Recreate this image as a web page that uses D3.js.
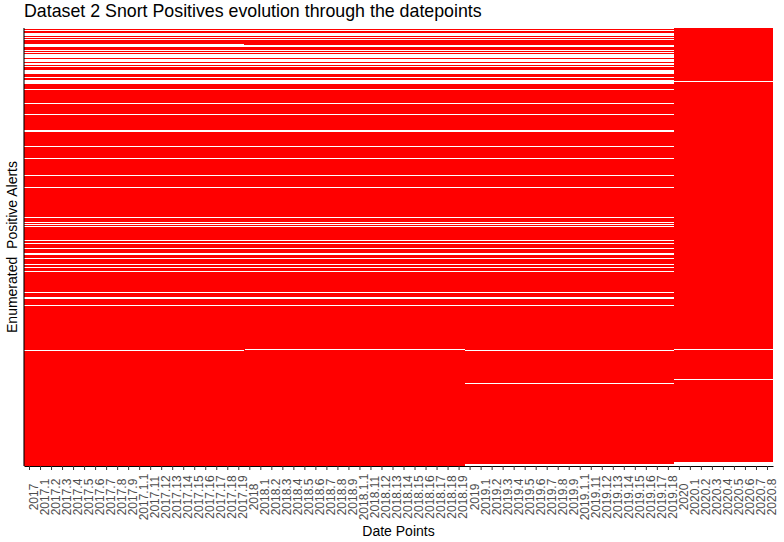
<!DOCTYPE html>
<html lang="en">
<head>
  <meta charset="UTF-8">
  <title>snort positives</title>
  <style>
    body { margin: 0; background: #fff; }
    text { font-family: "Liberation Sans", Arial, sans-serif; }
  </style>
</head>
<body>
  <svg id="chart" width="784" height="542"></svg>
  <script src="https://cdn.jsdelivr.net/npm/d3@7/dist/d3.min.js"></script>
  <script>
    // date points as they come out of the dataset (make.unique style names)
    var datePoints = [
      "2017", "2017.1", "2017.2", "2017.3", "2017.4", "2017.5", "2017.6", "2017.7", "2017.8", "2017.9",
      "2017.1.1", "2017.11", "2017.12", "2017.13", "2017.14", "2017.15", "2017.16", "2017.17", "2017.18", "2017.19",
      "2018", "2018.1", "2018.2", "2018.3", "2018.4", "2018.5", "2018.6", "2018.7", "2018.8", "2018.9",
      "2018.1.1", "2018.11", "2018.12", "2018.13", "2018.14", "2018.15", "2018.16", "2018.17", "2018.18", "2018.19",
      "2019", "2019.1", "2019.2", "2019.3", "2019.4", "2019.5", "2019.6", "2019.7", "2019.8", "2019.9",
      "2019.1.1", "2019.11", "2019.12", "2019.13", "2019.14", "2019.15", "2019.16", "2019.17", "2019.18",
      "2020", "2020.1", "2020.2", "2020.3", "2020.4", "2020.5", "2020.6", "2020.7", "2020.8"
    ];

    var alertCount = 438;

    // alert ranges [from, to) that are NOT positive, counted from the bottom
    var gapsUpTo2019 = [
      [437, 438], [435, 436], [430, 433], [428, 429], [426, 427], [419, 421],
      [415, 416], [413, 414], [408, 412], [404, 407], [401, 403], [399, 400],
      [392, 396], [388, 389], [382, 386], [376, 377], [362, 363], [351, 352],
      [334, 336], [319, 320], [307, 308], [290, 291], [278, 279], [248, 249],
      [243, 244], [241, 242], [239, 240], [225, 226], [222, 223], [217, 218],
      [211, 213], [207, 208], [201, 202], [198, 199], [194, 195], [173, 174],
      [167, 169], [160, 161]
    ];
    var gaps2017 = [[421, 422], [115, 116]];
    var gaps2018 = [[116, 117]];
    var gaps2019 = [[115, 116], [82, 83], [0, 2]];
    var gaps2020 = [[384, 385], [116, 117], [86, 87], [0, 4]];

    function positiveRuns(gaps) {
      var sorted = gaps.slice().sort(function(a, b) { return a[0] - b[0]; });
      var runs = [], start = 0;
      sorted.forEach(function(g) {
        if (g[0] > start) runs.push([start, g[0]]);
        start = Math.max(start, g[1]);
      });
      if (start < alertCount) runs.push([start, alertCount]);
      return runs;
    }

    var runsByYear = {
      "2017": positiveRuns(gapsUpTo2019.concat(gaps2017)),
      "2018": positiveRuns(gapsUpTo2019.concat(gaps2018)),
      "2019": positiveRuns(gapsUpTo2019.concat(gaps2019)),
      "2020": positiveRuns(gaps2020)
    };

    var margin = {top: 28, right: 11, bottom: 76, left: 24},
        width = 784 - margin.left - margin.right,
        height = 542 - margin.top - margin.bottom;

    var svg = d3.select("#chart");

    var x = d3.scaleBand().domain(datePoints).range([0, width]).padding(0);
    var y = d3.scaleLinear().domain([0, alertCount]).range([height, 0]);

    var g = svg.append("g")
        .attr("transform", "translate(" + margin.left + "," + margin.top + ")");

    var cells = [];
    datePoints.forEach(function(d) {
      runsByYear[d.slice(0, 4)].forEach(function(r) {
        cells.push({point: d, from: r[0], to: r[1]});
      });
    });

    g.append("g")
        .attr("shape-rendering", "crispEdges")
      .selectAll("rect")
      .data(cells)
      .enter().append("rect")
        .attr("x", function(d) { return x(d.point); })
        .attr("width", x.bandwidth() + 0.4)
        .attr("y", function(d) { return y(d.to); })
        .attr("height", function(d) { return y(d.from) - y(d.to); })
        .attr("fill", "#ff0000");

    // x axis
    var xAxis = g.append("g")
        .attr("transform", "translate(0," + height + ")")
        .call(d3.axisBottom(x).tickSize(4).tickSizeOuter(0));

    xAxis.select(".domain").attr("stroke", "#000").attr("stroke-width", 1.1);
    xAxis.selectAll(".tick line").attr("stroke", "#333");
    xAxis.selectAll(".tick text")
        .attr("transform", "translate(0,31) rotate(-90)")
        .attr("x", 0)
        .attr("y", 0)
        .attr("dy", "0.7em")
        .attr("text-anchor", "middle")
        .attr("fill", "#4d4d4d")
        .style("font-size", "12px");

    // y axis line only, no ticks
    g.append("line")
        .attr("x1", 0).attr("x2", 0)
        .attr("y1", 0).attr("y2", height)
        .attr("stroke", "#000")
        .attr("stroke-width", 1.1);

    svg.append("text")
        .attr("x", margin.left)
        .attr("y", 17)
        .style("font-size", "17.8px")
        .attr("fill", "#000")
        .text("Dataset 2 Snort Positives evolution through the datepoints");

    svg.append("text")
        .attr("x", margin.left + width / 2)
        .attr("y", 536)
        .attr("text-anchor", "middle")
        .style("font-size", "14px")
        .text("Date Points");

    svg.append("text")
        .attr("transform", "translate(17," + (margin.top + height / 2) + ") rotate(-90)")
        .attr("text-anchor", "middle")
        .style("font-size", "14px")
        .style("white-space", "pre")
        .text("Enumerated  Positive Alerts");
  </script>
</body>
</html>
